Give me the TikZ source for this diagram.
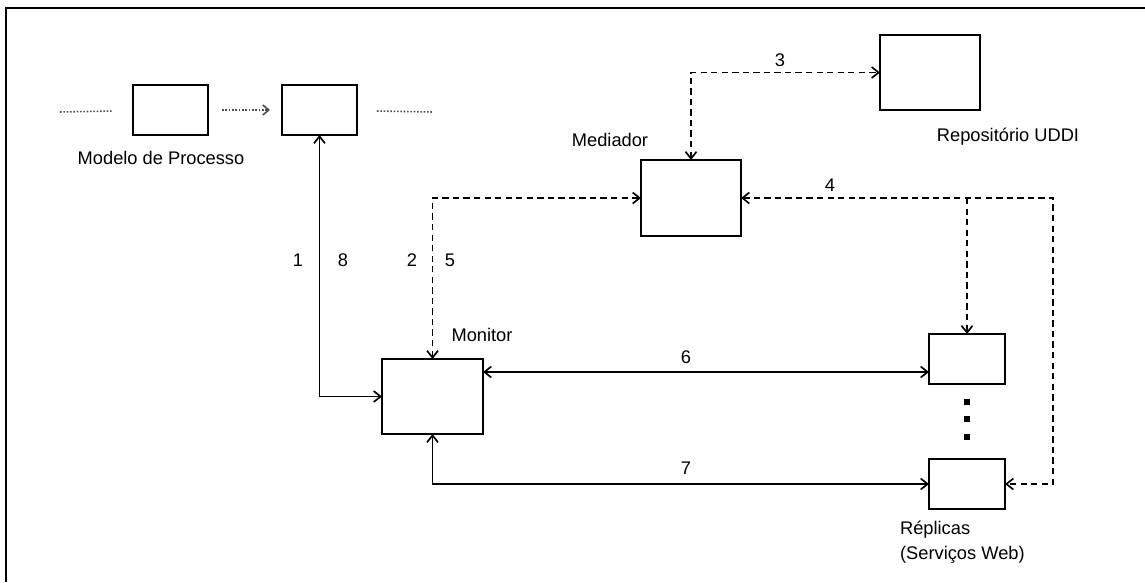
\documentclass[tikz,border=0pt]{standalone}
\usepackage{fontspec}
\setmainfont{Liberation Sans}
\usetikzlibrary{arrows.meta}

\begin{document}
\begin{tikzpicture}[
    x=0.02cm, y=-0.02cm,
    box/.style={rectangle, draw=black, line width=1.1pt, inner sep=0pt, outer sep=0pt, fill=white},
    lbl/.style={font=\fontsize{10.4}{14.2}\selectfont, inner sep=1pt},
    bus/.style={<->, line width=0.95pt, >={Straight Barb[length=1.4mm,width=2.2mm]}},
    dbus/.style={bus, dash pattern=on 3.6pt off 2.4pt},
    flow/.style={line width=0.9pt, densely dotted, color=black!70, >={Straight Barb[length=1.2mm,width=2mm]}},
    dot/.style={rectangle, fill=black, inner sep=0pt, minimum size=0.12cm}
]
\useasboundingbox (0,0) rectangle (1145,582);

% Frame
\draw[line width=1.3pt] (1145,8) -- (6,8) -- (6,582);

% Nodes
\node[box, minimum width=1.5cm, minimum height=1cm]    (proc1)    at (170.5,110) {};
\node[box, minimum width=1.5cm, minimum height=1cm]    (proc2)    at (319.5,110) {};
\node[box, minimum width=2.02cm, minimum height=1.5cm] (monitor)  at (432.5,396.5) {};
\node[box, minimum width=2cm, minimum height=1.52cm]   (mediador) at (691,198) {};
\node[box, minimum width=2cm, minimum height=1.5cm]    (uddi)     at (930,72.5) {};
\node[box, minimum width=1.52cm, minimum height=1cm]   (rep1)     at (967,359) {};
\node[box, minimum width=1.52cm, minimum height=1cm]   (rep2)     at (967,484) {};
\foreach \i/\y in {1/402, 2/419, 3/437}
    \node[dot] (dot\i) at (967,\y) {};

% Labels
\node[lbl] (lmodelo)   at (161,158)  {Modelo de Processo};
\node[lbl] (lmediador) at (610,140)  {Mediador};
\node[lbl] (luddi)     at (1008,137) {Repositório UDDI};
\node[lbl] (lmonitor)  at (482,335)  {Monitor};
\node[lbl, align=left, anchor=west] (lrep) at (898,542) {Réplicas\\(Serviços Web)};

% Process model
\coordinate (pin)  at (60,112);
\coordinate (pout) at (432,112);
\draw[flow, shorten >=0.4cm] (pin) -- (proc1);
\draw[flow, ->, shorten <=0.28cm, shorten >=0.24cm] (proc1) -- (proc2);
\draw[flow, shorten <=0.4cm] (proc2) -- (pout);

% Connections
\draw[bus] (proc2.south) |- (monitor.west);
\draw[dbus] (monitor.north) |- (mediador.west);
\draw[dbus] (mediador.north) |- (uddi.west);
\draw[dbus] (mediador.east) -| ([xshift=0.96cm]rep2.east) -- (rep2.east);
\draw[dbus, ->] (rep1.north |- mediador.east) -- (rep1.north);
\coordinate (r6) at ([yshift=-0.26cm]rep1.west);
\draw[bus] (monitor.east |- r6) -- (r6);
\draw[bus] (monitor.south) |- (rep2.west);

% Step numbers
\node[lbl] (n1) at (298,260) {1};
\node[lbl] (n8) at (343,260) {8};
\node[lbl] (n2) at (412,260) {2};
\node[lbl] (n5) at (450,260) {5};
\node[lbl] (n3) at (780,60)  {3};
\node[lbl] (n4) at (830,185) {4};
\node[lbl] (n6) at (686,357) {6};
\node[lbl] (n7) at (686,468) {7};

\end{tikzpicture}
\end{document}
